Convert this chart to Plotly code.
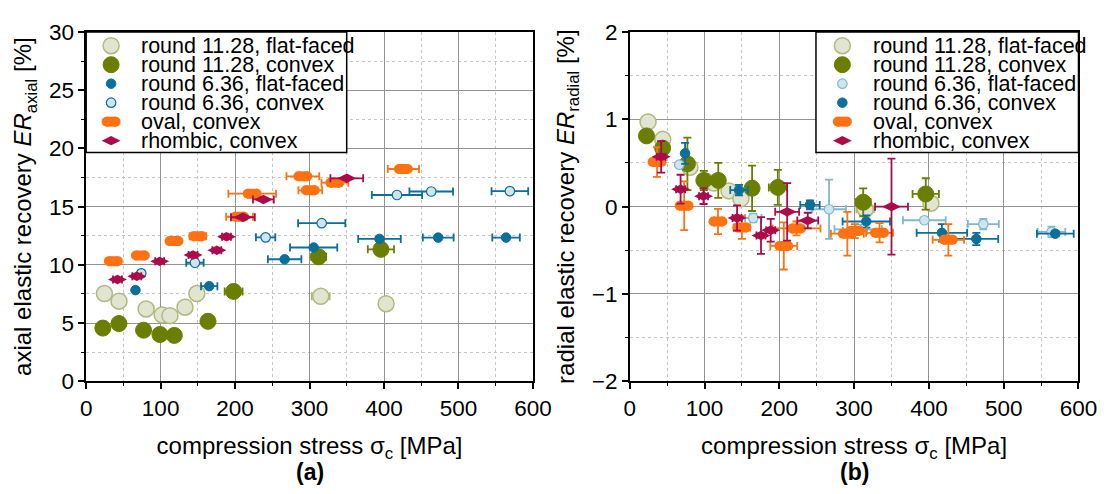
import plotly.graph_objects as go

FONT = "Liberation Sans, Arial, Helvetica, sans-serif"
W, H = 1118, 494

# ---------------- data ----------------
# round 11.28, flat-faced
r11f_x = [24.5, 44.1, 80.5, 102.0, 112.5, 132.7, 148.6, 315.0, 402.8]
r11f_xerr = [2, 2, 2, 2, 2, 2, 2, 12, 8]
r11f_ax = [7.54, 6.88, 6.21, 5.70, 5.64, 6.36, 7.54, 7.30, 6.66]
r11f_rad = [0.97, 0.77, 0.45, 0.29, 0.27, 0.18, 0.09, -0.03, 0.04]
r11f_rad_err = [0.02, 0.02, 0.02, 0.02, 0.02, 0.02, 0.02, 0.05, 0.04]

# round 11.28, convex
r11c_x = [22.4, 44.0, 77.1, 99.1, 118.4, 163.6, 198.0, 312.2, 395.8]
r11c_xerr = [2, 2, 2, 2, 2, 3, 12, 10, 17.6]
r11c_ax = [4.57, 4.96, 4.39, 4.02, 3.94, 5.15, 7.72, 10.69, 11.33]
r11c_rad = [0.81, 0.67, 0.49, 0.30, 0.30, 0.21, 0.22, 0.05, 0.145]
r11c_rad_err = [0.03, 0.06, 0.30, 0.11, 0.20, 0.26, 0.20, 0.16, 0.18]

# round 6.36, flat-faced
r6f_x = [66.2, 165.2, 266.5, 305.5, 393.9, 472.8, 563.9]
r6f_xerr = [3, 11, 22.5, 31.7, 28.6, 20.7, 18.5]
r6f_ax = [7.83, 8.17, 10.48, 11.49, 12.23, 12.34, 12.34]
r6f_rad = [0.48, -0.13, -0.03, -0.26, -0.156, -0.20, -0.29]
r6f_rad_err = [0.02, 0.05, 0.34, 0.05, 0.03, 0.06, 0.06]

# round 6.36, convex
r6c_x = [74.0, 146.1, 241.0, 316.3, 417.4, 463.4, 569.0]
r6c_xerr = [3, 11.7, 13, 31.7, 33.8, 29.3, 24.6]
r6c_ax = [9.27, 10.18, 12.36, 13.58, 16.00, 16.30, 16.33]
r6c_rad = [0.61, 0.19, 0.02, -0.17, -0.30, -0.37, -0.31]
r6c_rad_err = [0.12, 0.06, 0.05, 0.07, 0.10, 0.07, 0.03]

# oval, convex
ov_x = [36.5, 72.8, 118.0, 150.0, 206.0, 223.0, 301.0, 291.0, 334.0, 426.0]
ov_xerr = [4, 4, 4, 11, 18, 32, 16, 22, 18, 21]
ov_ax = [10.32, 10.80, 12.04, 12.46, 14.13, 16.11, 16.40, 17.60, 17.06, 18.23]
ov_rad = [0.51, 0.01, -0.17, -0.24, -0.45, -0.25, -0.28, -0.31, -0.30, -0.38]
ov_rad_err = [0.17, 0.28, 0.145, 0.13, 0.27, 0.08, 0.08, 0.25, 0.11, 0.18]

# rhombic, convex
rh_x = [42.0, 68.0, 98.7, 143.5, 175.5, 188.5, 210.5, 238.0, 350.0]
rh_xerr = [6, 6, 6, 6, 6, 6, 16, 14, 22]
rh_ax = [8.75, 9.02, 10.30, 10.84, 11.25, 12.42, 14.09, 15.62, 17.43]
rh_rad = [0.57, 0.20, 0.12, -0.13, -0.33, -0.27, -0.06, -0.16, 0.0]
rh_rad_err = [0.18, 0.165, 0.09, 0.145, 0.21, 0.13, 0.33, 0.09, 0.55]

legend_labels = ["round 11.28, flat-faced", "round 11.28, convex",
                 "round 6.36, flat-faced", "round 6.36, convex",
                 "oval, convex", "rhombic, convex"]

# ---------------- styles ----------------
C_R11F_FILL = "#e1e5cf"
C_R11F_LINE = "#b0b97e"
C_R11C = "#6b7e00"
C_DB = "#0b6f9b"
C_LB_FILL = "#cfe5ee"
C_LB_LINE = "#7db8cf"
C_OV = "#ff7111"
C_RH = "#ab0a4b"

OV_DX = 6.0  # half spacing of oval cap circles in MPa (~4.6 px)

fig = go.Figure()


def err(arr, color):
    return dict(type="data", array=arr, visible=True, color=color,
                thickness=1.8, width=4)


def add(xa, ya, x, y, xerr, yerr, marker, ecolor):
    fig.add_trace(go.Scatter(
        x=x, y=y, mode="markers", xaxis=xa, yaxis=ya,
        error_x=err(xerr, ecolor),
        error_y=err(yerr, ecolor) if yerr is not None else dict(visible=False),
        marker=marker, showlegend=False, hoverinfo="skip"))


def add_oval(xa, ya, x, y, xerr, yerr):
    add(xa, ya, x, y, xerr, yerr,
        dict(symbol="square", size=10, color=C_OV, line=dict(width=0)), C_OV)
    for s in (-1, 1):
        fig.add_trace(go.Scatter(
            x=[v + s * OV_DX for v in x], y=y, mode="markers", xaxis=xa, yaxis=ya,
            marker=dict(symbol="circle", size=10, color=C_OV, line=dict(width=0)),
            showlegend=False, hoverinfo="skip"))


m_r11f = dict(symbol="circle", size=16, color=C_R11F_FILL, line=dict(color=C_R11F_LINE, width=1.5))
m_r11c = dict(symbol="circle", size=16, color=C_R11C, line=dict(color=C_R11C, width=1))
m_db = dict(symbol="circle", size=9.5, color=C_DB, line=dict(color=C_DB, width=1))
m_lb_a = dict(symbol="circle", size=9.5, color=C_LB_FILL, line=dict(color=C_DB, width=1.2))
m_lb_b = dict(symbol="circle", size=9.5, color=C_LB_FILL, line=dict(color=C_LB_LINE, width=1.2))
m_rh = dict(symbol="diamond-wide", size=13.5, color=C_RH, line=dict(width=0))

# ---------- panel (a): axial ----------
add("x", "y", r11f_x, r11f_ax, r11f_xerr, None, m_r11f, C_R11F_LINE)
add("x", "y", r11c_x, r11c_ax, r11c_xerr, None, m_r11c, C_R11C)
add("x", "y", r6f_x, r6f_ax, r6f_xerr, None, m_db, C_DB)
add("x", "y", r6c_x, r6c_ax, r6c_xerr, None, m_lb_a, C_DB)
add_oval("x", "y", ov_x, ov_ax, ov_xerr, None)
add("x", "y", rh_x, rh_ax, rh_xerr, None, m_rh, C_RH)

# ---------- panel (b): radial ----------
add("x2", "y2", r11f_x, r11f_rad, r11f_xerr, r11f_rad_err, m_r11f, C_R11F_LINE)
add("x2", "y2", r11c_x, r11c_rad, r11c_xerr, r11c_rad_err, m_r11c, C_R11C)
add("x2", "y2", r6f_x, r6f_rad, r6f_xerr, r6f_rad_err, m_lb_b, C_LB_LINE)
add("x2", "y2", r6c_x, r6c_rad, r6c_xerr, r6c_rad_err, m_db, C_DB)
add_oval("x2", "y2", ov_x, ov_rad, ov_xerr, ov_rad_err)
add("x2", "y2", rh_x, rh_rad, rh_xerr, rh_rad_err, m_rh, C_RH)

# ---------- manual legends (overlay paper-like axes x3/y3) ----------
ROW0, ROWSTEP = 35.5, 20.0
legend_specs = {
    "a": dict(box=(82, 348.5, 21, 148), mx=107.5, tx=136.5,
              markers=[m_r11f, m_r11c, m_db, m_lb_a, "oval", m_rh]),
    "b": dict(box=(828.5, 1097, 21, 148), mx=855.5, tx=884.5,
              markers=[m_r11f, m_r11c, m_lb_b, m_db, "oval", m_rh]),
}
annotations = []
for key, spec in legend_specs.items():
    x0, x1, y0, y1 = spec["box"]
    fig.add_trace(go.Scatter(
        x=[x0 / W, x1 / W, x1 / W, x0 / W, x0 / W],
        y=[1 - y0 / H, 1 - y0 / H, 1 - y1 / H, 1 - y1 / H, 1 - y0 / H],
        mode="lines", fill="toself", fillcolor="white",
        line=dict(color="black", width=1.5), xaxis="x3", yaxis="y3",
        showlegend=False, hoverinfo="skip"))
    for i, (lab, mk) in enumerate(zip(legend_labels, spec["markers"])):
        py = 1 - (ROW0 + i * ROWSTEP) / H
        px = spec["mx"] / W
        if mk == "oval":
            fig.add_trace(go.Scatter(
                x=[px - 4.6 / W, px, px + 4.6 / W], y=[py, py, py], mode="markers",
                marker=dict(symbol=["circle", "square", "circle"], size=10,
                            color=C_OV, line=dict(width=0)),
                xaxis="x3", yaxis="y3", showlegend=False, hoverinfo="skip"))
        else:
            fig.add_trace(go.Scatter(
                x=[px], y=[py], mode="markers", marker=mk,
                xaxis="x3", yaxis="y3", showlegend=False, hoverinfo="skip"))
        annotations.append(dict(
            x=spec["tx"] / W, y=py, xref="paper", yref="paper", text=lab,
            showarrow=False, xanchor="left", yanchor="middle",
            font=dict(family=FONT, size=21.5, color="black")))

annotations.append(dict(x=310.5 / W, y=1 - 485 / H, xref="paper", yref="paper",
                        text="<b>(a)</b>", showarrow=False, xanchor="center", yanchor="middle",
                        font=dict(family=FONT, size=23, color="black")))
annotations.append(dict(x=867.5 / W, y=1 - 485 / H, xref="paper", yref="paper",
                        text="<b>(b)</b>", showarrow=False, xanchor="center", yanchor="middle",
                        font=dict(family=FONT, size=23, color="black")))

# ---------- axes ----------
def xaxis_style(domain, anchor):
    return dict(domain=domain, anchor=anchor, range=[0, 600], tick0=0, dtick=100,
                ticks="outside", ticklen=6, tickwidth=1.5, tickcolor="black",
                showline=True, linecolor="black", linewidth=1.5, mirror=True,
                showgrid=True, gridcolor="#939393", gridwidth=1, zeroline=False,
                tickfont=dict(family=FONT, size=22.5, color="black"),
                minor=dict(dtick=50, ticks="outside", ticklen=3, tickwidth=1.2,
                           tickcolor="black", showgrid=True, gridcolor="#c6c6c6",
                           griddash="dot", gridwidth=1),
                title=dict(text="compression stress σ<sub>c</sub> [MPa]", standoff=17,
                           font=dict(family=FONT, size=24, color="black")),
                fixedrange=True)


def yaxis_style(domain, anchor, rng, dt, title):
    return dict(domain=domain, anchor=anchor, range=rng, tick0=rng[0], dtick=dt,
                ticks="outside", ticklen=6, tickwidth=1.5, tickcolor="black",
                showline=True, linecolor="black", linewidth=1.5, mirror=True,
                showgrid=True, gridcolor="#939393", gridwidth=1, zeroline=False,
                tickfont=dict(family=FONT, size=22.5, color="black"),
                minor=dict(dtick=dt / 2, ticks="outside", ticklen=3, tickwidth=1.2,
                           tickcolor="black", showgrid=True, gridcolor="#c6c6c6",
                           griddash="dot", gridwidth=1),
                title=dict(text=title, standoff=10,
                           font=dict(family=FONT, size=24, color="black")),
                fixedrange=True)


YDOM = [1 - 389 / H, 1 - 21 / H]
fig.update_layout(
    width=W, height=H, margin=dict(l=0, r=0, t=0, b=0),
    paper_bgcolor="white", plot_bgcolor="rgba(0,0,0,0)", showlegend=False,
    hovermode=False, font=dict(family=FONT, color="black"),
    xaxis=xaxis_style([82 / W, 539 / W], "y"),
    yaxis=yaxis_style(YDOM, "x", [0, 30], 5,
                      "axial elastic recovery <i>ER</i><sub>axial</sub> [%]"),
    xaxis2=xaxis_style([638 / W, 1097 / W], "y2"),
    yaxis2=yaxis_style(YDOM, "x2", [-2, 2], 1,
                       "radial elastic recovery <i>ER</i><sub>radial</sub> [%]"),
    xaxis3=dict(domain=[0, 1], anchor="y3", range=[0, 1], visible=False, fixedrange=True),
    yaxis3=dict(domain=[0, 1], anchor="x3", range=[0, 1], visible=False, fixedrange=True),
    annotations=annotations,
)

fig.write_html("out.html")
